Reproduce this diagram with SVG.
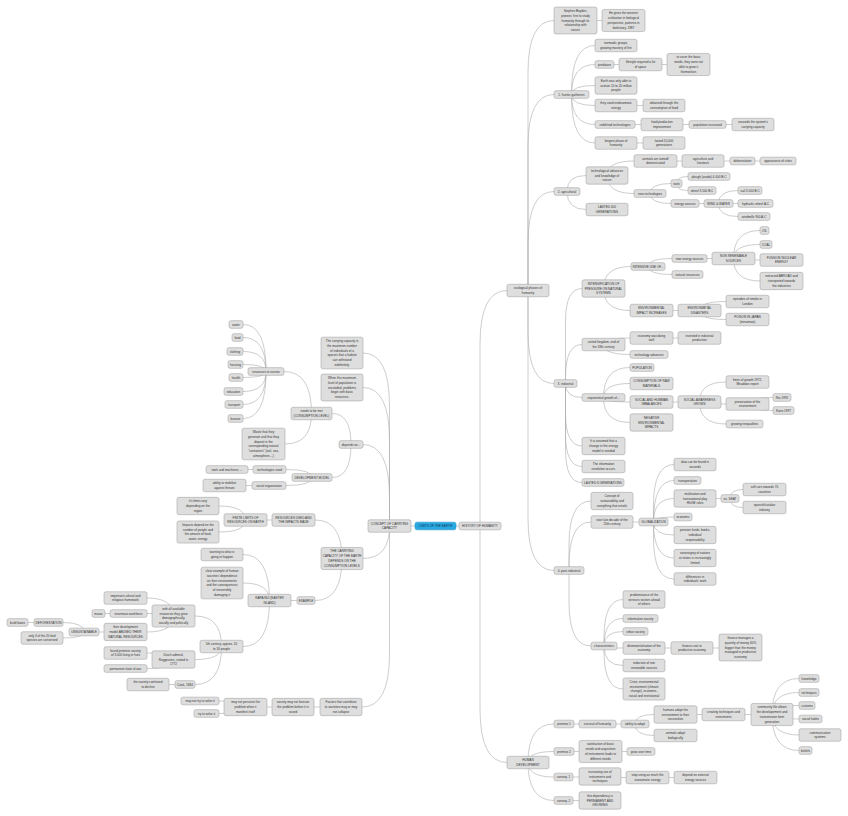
<svg xmlns="http://www.w3.org/2000/svg" width="848" height="816" viewBox="0 0 848 816">
<style>
.c path{fill:none;stroke:#ababab;stroke-width:.6}
.n rect{fill:#dedede;stroke:#999;stroke-width:.5;rx:2px}
.n text{font-family:"Liberation Sans",Arial,sans-serif;font-size:3.1px;fill:#333;text-anchor:middle;dominant-baseline:central}
#root rect{fill:#29a9e1;stroke:#1b8fc4}
#root text{fill:#123a5c}
</style>
<rect width="848" height="816" fill="#fff"/>
<g id="connectors" class="c">
<path d="M528 290.5V72.5Q528 20.5 554 20.5M528 290.5V146.5Q528 94.5 554 94.5M528 290.5V243.5Q528 191.5 554 191.5M528 290.5V331.5Q528 383.5 554 383.5M528 290.5V518.5Q528 570.5 554 570.5"/>
<path d="M480 526V344.5Q480 290.5 507 290.5M480 526V708.5Q480 762.5 507 762.5M456 526H459M415 526H411"/>
<path d="M597 20.5H602M571.5 94.5V92.5Q571.5 45.5 595 45.5M571.5 94.5Q571.5 64.5 595 64.5M571.5 94.5Q571.5 85.5 595 85.5M571.5 94.5Q571.5 105.5 595 105.5M571.5 94.5Q571.5 124.5 595 124.5M571.5 94.5V96Q571.5 143 595 143M614 64.5H619M662 64.5H667M637 105.5H643M635 124.5H641M683 124.5H689M726 124.5H732M637 143H643"/>
<path d="M567 191.5Q567 175.5 586 175.5M567 191.5Q567 209.5 586 209.5M607 175.5Q607 161 634 161M607 175.5Q607 193.5 634 193.5M677 161H682M724 161H730M755 161H760M650 193.5Q650 183.5 671 183.5M650 193.5Q650 203.5 671 203.5M676.5 183.5Q676.5 176.5 688 176.5M676.5 183.5Q676.5 190.5 688 190.5M699 203.5H704M718.5 203.5Q718.5 190.5 738 190.5M733 203.5H738M718.5 203.5Q718.5 216.5 738 216.5"/>
<path d="M565.5 383.5V321.5Q565.5 288.5 582 288.5M565.5 383.5V377.5Q565.5 344.5 582 344.5M565.5 383.5Q565.5 397.5 582 397.5M565.5 383.5V413Q565.5 446 582 446M565.5 383.5V433.5Q565.5 466.5 582 466.5M565.5 383.5V449.5Q565.5 482.5 582 482.5"/>
<path d="M603.5 288.5Q603.5 266.5 631 266.5M603.5 288.5Q603.5 310.5 630 310.5M648 266.5Q648 258.5 672 258.5M648 266.5Q648 274.5 672 274.5M707 258.5H712M733.5 258.5Q733.5 230.5 760 230.5M733.5 258.5Q733.5 244.5 760 244.5M755 260H760M733.5 258.5Q733.5 281 760 281M673 310.5H678M699.5 310.5Q699.5 301.5 726 301.5M699.5 310.5Q699.5 319.5 726 319.5"/>
<path d="M603.5 344.5Q603.5 338 630 338M603.5 344.5Q603.5 354.5 630 354.5M673 338H678M603.5 397.5Q603.5 367.5 630 367.5M603.5 397.5Q603.5 383.5 630 383.5M603.5 397.5Q603.5 402 630 402M603.5 397.5Q603.5 422.5 630 422.5M673 402H678M699.5 402Q699.5 382 726 382M721 404H726M699.5 402Q699.5 424 726 424M747.5 404Q747.5 397.5 773 397.5M747.5 404Q747.5 410.5 773 410.5"/>
<path d="M569 570.5V545Q569 501 591 501M569 570.5V566Q569 522 591 522M569 570.5V602Q569 646 591 646M633 522H639M653.5 522V505.5Q653.5 464.5 674 464.5M653.5 522V521.5Q653.5 480.5 674 480.5M653.5 522Q653.5 498.5 674 498.5M653.5 522Q653.5 517 674 517M653.5 522Q653.5 535 674 535M653.5 522Q653.5 558 674 558M653.5 522V538Q653.5 579 674 579M716 498.5H721M730 498.5Q730 489.5 743 489.5M730 498.5Q730 507.5 743 507.5"/>
<path d="M604 646V637.5Q604 599.5 623 599.5M604 646Q604 618.5 623 618.5M604 646Q604 631.5 623 631.5M617 648H623M604 646Q604 665.5 623 665.5M604 646V651Q604 689 623 689M665 648H671M713 648H719"/>
<path d="M528 762.5Q528 724 554 724M528 762.5Q528 751.5 554 751.5M528 762.5Q528 777 554 777M528 762.5Q528 800.5 554 800.5M574 724H579M616 724H621M635 724Q635 714.5 654 714.5M635 724Q635 735.5 654 735.5M697 714.5H702M745 714.5H751M772 714.5Q772 678.5 799 678.5M772 714.5Q772 692.5 799 692.5M772 714.5Q772 705.5 799 705.5M772 714.5Q772 719 799 719M772 714.5Q772 735 799 735M772 714.5Q772 750.5 799 750.5M574 751.5H579M622 751.5H627M573 777H579M621 777.5H626M669 777.5H674M573 800.5H579"/>
<path d="M389.5 526V406Q389.5 353 363 353M389.5 526V440.5Q389.5 387.5 363 387.5M389.5 526V497.5Q389.5 444.5 363 444.5M389.5 526Q389.5 558.5 363 558.5M389.5 526V654Q389.5 707 362 707"/>
<path d="M351 444.5Q351 413.5 332 413.5M351 444.5Q351 477.5 332 477.5M311.5 413.5Q311.5 371.5 284 371.5M311.5 413.5Q311.5 444 285 444M266 371.5V370.5Q266 324.5 243 324.5M266 371.5Q266 337.5 243 337.5M266 371.5Q266 351.5 243 351.5M266 371.5Q266 364.5 243 364.5M266 371.5Q266 377.5 243 377.5M266 371.5Q266 391.5 243 391.5M266 371.5Q266 404.5 243 404.5M266 371.5V372.5Q266 418.5 243 418.5M312 477.5Q312 469.5 286 469.5M312 477.5Q312 485.5 286 485.5M253 469.5H248M252 485.5H246"/>
<path d="M342 558.5Q342 520 315 520M342 558.5Q342 600.5 315 600.5M272 520H267M245.5 520Q245.5 506 219 506M245.5 520Q245.5 532 219 532M297 600.5H291M269.5 600.5Q269.5 554.5 243 554.5M269.5 600.5Q269.5 583 243 583M269.5 600.5Q269.5 646.5 243 646.5"/>
<path d="M221.5 646.5Q221.5 616 195 616M221.5 646.5Q221.5 659.5 195 659.5M221.5 646.5Q221.5 684.5 195 684.5M173.5 616Q173.5 598 147 598M152 613.5H147M173.5 616Q173.5 632 147 632M110 613.5H105M104 632H99M84 632Q84 622.5 63 622.5M84 632Q84 638 63 638M34 622.5H28M173.5 659.5Q173.5 653 147 653M173.5 659.5Q173.5 668.5 147 668.5M175 684.5H169"/>
<path d="M320 707H314M272 707H267M245.5 707Q245.5 701 219 701M245.5 707Q245.5 713.5 219 713.5"/>
</g>

<g id="root" class="n"><rect x="415" y="522.15" width="41" height="7.7"/><text x="435.5" y="526">LIMITS OF THE EARTH</text></g>
<g id="hist" class="n"><rect x="459" y="522.15" width="42" height="7.7"/><text x="480" y="526">HISTORY OF HUMANITY</text></g>
<g id="concept" class="n"><rect x="368" y="519.75" width="43" height="12.5"/><text x="389.5" y="523.6"><tspan x="389.5">CONCEPT OF CARRYING</tspan><tspan x="389.5" dy="4.8">CAPACITY</tspan></text></g>
<g id="ecol" class="n"><rect x="507" y="284.25" width="42" height="12.5"/><text x="528" y="288.1"><tspan x="528">ecological phases of</tspan><tspan x="528" dy="4.8">humanity</tspan></text></g>
<g id="hd" class="n"><rect x="507" y="756.25" width="42" height="12.5"/><text x="528" y="760.1"><tspan x="528">HUMAN</tspan><tspan x="528" dy="4.8">DEVELOPMENT</tspan></text></g>

<g id="boyden" class="n"><rect x="554" y="7.05" width="43" height="26.9"/><text x="575.5" y="10.9"><tspan x="575.5">Stephen Boyden,</tspan><tspan x="575.5" dy="4.8">pioneer, first to study</tspan><tspan x="575.5" dy="4.8">humanity through its</tspan><tspan x="575.5" dy="4.8">relationship with</tspan><tspan x="575.5" dy="4.8">nature</tspan></text></g>
<g id="gives" class="n"><rect x="602" y="9.45" width="43" height="22.1"/><text x="623.5" y="13.3"><tspan x="623.5">He gives the western</tspan><tspan x="623.5" dy="4.8">civilization in biological</tspan><tspan x="623.5" dy="4.8">perspective, patterns in</tspan><tspan x="623.5" dy="4.8">biohistory. 1987</tspan></text></g>
<g id="hunter" class="n"><rect x="554" y="90.65" width="35" height="7.7"/><text x="571.5" y="94.5">1. hunter-gatherers</text></g>
<g id="nomadic" class="n"><rect x="595" y="39.25" width="42" height="12.5"/><text x="616" y="43.1"><tspan x="616">normadic groups,</tspan><tspan x="616" dy="4.8">growing mastery of fire</tspan></text></g>
<g id="predators" class="n"><rect x="595" y="60.65" width="19" height="7.7"/><text x="604.5" y="64.5">predators</text></g>
<g id="lifestyle" class="n"><rect x="619" y="58.25" width="43" height="12.5"/><text x="640.5" y="62.1"><tspan x="640.5">lifestyle required a lot</tspan><tspan x="640.5" dy="4.8">of space</tspan></text></g>
<g id="tocover" class="n"><rect x="667" y="53.45" width="43" height="22.1"/><text x="688.5" y="57.3"><tspan x="688.5">to cover the basic</tspan><tspan x="688.5" dy="4.8">needs, they were not</tspan><tspan x="688.5" dy="4.8">able to grow it</tspan><tspan x="688.5" dy="4.8">themselves</tspan></text></g>
<g id="earth" class="n"><rect x="595" y="76.85" width="42" height="17.3"/><text x="616" y="80.7"><tspan x="616">Earth was only able to</tspan><tspan x="616" dy="4.8">sustain 10 to 20 million</tspan><tspan x="616" dy="4.8">people</tspan></text></g>
<g id="used" class="n"><rect x="595" y="99.25" width="42" height="12.5"/><text x="616" y="103.1"><tspan x="616">they used endosomatic</tspan><tspan x="616" dy="4.8">energy</tspan></text></g>
<g id="obtained" class="n"><rect x="643" y="99.25" width="42" height="12.5"/><text x="664" y="103.1"><tspan x="664">obtained through the</tspan><tspan x="664" dy="4.8">consumption of food</tspan></text></g>
<g id="redefined" class="n"><rect x="595" y="120.65" width="40" height="7.7"/><text x="615" y="124.5">redefined technologies</text></g>
<g id="foodprod" class="n"><rect x="641" y="118.25" width="42" height="12.5"/><text x="662" y="122.1"><tspan x="662">food production</tspan><tspan x="662" dy="4.8">improvement</tspan></text></g>
<g id="popinc" class="n"><rect x="689" y="120.65" width="37" height="7.7"/><text x="707.5" y="124.5">population increased</text></g>
<g id="exceeds" class="n"><rect x="732" y="118.25" width="42" height="12.5"/><text x="753" y="122.1"><tspan x="753">exceeds the system's</tspan><tspan x="753" dy="4.8">carrying capacity</tspan></text></g>
<g id="longest" class="n"><rect x="595" y="136.75" width="42" height="12.5"/><text x="616" y="140.6"><tspan x="616">longest phase of</tspan><tspan x="616" dy="4.8">humanity</tspan></text></g>
<g id="lasted" class="n"><rect x="643" y="136.75" width="42" height="12.5"/><text x="664" y="140.6"><tspan x="664">lasted 10,000</tspan><tspan x="664" dy="4.8">generations</tspan></text></g>

<g id="agri" class="n"><rect x="554" y="187.65" width="26" height="7.7"/><text x="567" y="191.5">2. agricultural</text></g>
<g id="techadv" class="n"><rect x="586" y="166.85" width="42" height="17.3"/><text x="607" y="170.7"><tspan x="607">technological advances</tspan><tspan x="607" dy="4.8">and knowledge of</tspan><tspan x="607" dy="4.8">nature</tspan></text></g>
<g id="animals" class="n"><rect x="634" y="154.75" width="43" height="12.5"/><text x="655.5" y="158.6"><tspan x="655.5">animals are tamed/</tspan><tspan x="655.5" dy="4.8">domesticated</tspan></text></g>
<g id="agriliv" class="n"><rect x="682" y="154.75" width="42" height="12.5"/><text x="703" y="158.6"><tspan x="703">agriculture and</tspan><tspan x="703" dy="4.8">livestock</tspan></text></g>
<g id="defor" class="n"><rect x="730" y="157.15" width="25" height="7.7"/><text x="742.5" y="161">deforestation</text></g>
<g id="cities" class="n"><rect x="760" y="157.15" width="36" height="7.7"/><text x="778" y="161">appearance of cities</text></g>
<g id="newtech" class="n"><rect x="634" y="189.65" width="32" height="7.7"/><text x="650" y="193.5">new technologies</text></g>
<g id="tools" class="n"><rect x="671" y="179.65" width="11" height="7.7"/><text x="676.5" y="183.5">tools</text></g>
<g id="plough" class="n"><rect x="688" y="172.65" width="42" height="7.7"/><text x="709" y="176.5">plough (arado) 4.000 B.C</text></g>
<g id="wheel" class="n"><rect x="688" y="186.65" width="28" height="7.7"/><text x="702" y="190.5">wheel 3.500 B.C</text></g>
<g id="energy" class="n"><rect x="671" y="199.65" width="28" height="7.7"/><text x="685" y="203.5">energy sources</text></g>
<g id="wind" class="n"><rect x="704" y="199.65" width="29" height="7.7"/><text x="718.5" y="203.5">WIND &amp; WATER</text></g>
<g id="sail" class="n"><rect x="738" y="186.65" width="24" height="7.7"/><text x="750" y="190.5">sail 3.000 B.C</text></g>
<g id="hydraulic" class="n"><rect x="738" y="199.65" width="35" height="7.7"/><text x="755.5" y="203.5">hydraulic wheel A.C</text></g>
<g id="windmills" class="n"><rect x="738" y="212.65" width="32" height="7.7"/><text x="754" y="216.5">windmills 900 A.C</text></g>
<g id="lasted400" class="n"><rect x="586" y="203.25" width="42" height="12.5"/><text x="607" y="207.1"><tspan x="607">LASTED 400</tspan><tspan x="607" dy="4.8">GENERATIONS</tspan></text></g>

<g id="industrial" class="n"><rect x="554" y="379.65" width="23" height="7.7"/><text x="565.5" y="383.5">3. industrial</text></g>
<g id="intens" class="n"><rect x="582" y="279.85" width="43" height="17.3"/><text x="603.5" y="283.7"><tspan x="603.5">INTENSIFICATION OF</tspan><tspan x="603.5" dy="4.8">PRESSURE ON NATURAL</tspan><tspan x="603.5" dy="4.8">SYSTEMS</tspan></text></g>
<g id="intensive" class="n"><rect x="631" y="262.65" width="34" height="7.7"/><text x="648" y="266.5">INTENSIVE USE OF...</text></g>
<g id="newenergy" class="n"><rect x="672" y="254.65" width="35" height="7.7"/><text x="689.5" y="258.5">new energy sources</text></g>
<g id="nonrenew" class="n"><rect x="712" y="252.25" width="43" height="12.5"/><text x="733.5" y="256.1"><tspan x="733.5">NON RENEWABLE</tspan><tspan x="733.5" dy="4.8">SOURCES</tspan></text></g>
<g id="oil" class="n"><rect x="760" y="226.65" width="9" height="7.7"/><text x="764.5" y="230.5">OIL</text></g>
<g id="coal" class="n"><rect x="760" y="240.65" width="12" height="7.7"/><text x="766" y="244.5">COAL</text></g>
<g id="fussion" class="n"><rect x="760" y="253.75" width="43" height="12.5"/><text x="781.5" y="257.6"><tspan x="781.5">FUSSION NUCLEAR</tspan><tspan x="781.5" dy="4.8">ENERGY</tspan></text></g>
<g id="extracted" class="n"><rect x="760" y="272.35" width="43" height="17.3"/><text x="781.5" y="276.2"><tspan x="781.5">extracted ABROAD and</tspan><tspan x="781.5" dy="4.8">transported towards</tspan><tspan x="781.5" dy="4.8">the industries</tspan></text></g>
<g id="natres" class="n"><rect x="672" y="270.65" width="31" height="7.7"/><text x="687.5" y="274.5">natural resources</text></g>
<g id="envimpact" class="n"><rect x="630" y="304.25" width="43" height="12.5"/><text x="651.5" y="308.1"><tspan x="651.5">ENVIRONMENTAL</tspan><tspan x="651.5" dy="4.8">IMPACT INCREASES</tspan></text></g>
<g id="disasters" class="n"><rect x="678" y="304.25" width="43" height="12.5"/><text x="699.5" y="308.1"><tspan x="699.5">ENVIRONMETAL</tspan><tspan x="699.5" dy="4.8">DISASTERS</tspan></text></g>
<g id="smoke" class="n"><rect x="726" y="295.25" width="43" height="12.5"/><text x="747.5" y="299.1"><tspan x="747.5">episodes of smoke in</tspan><tspan x="747.5" dy="4.8">London</tspan></text></g>
<g id="poison" class="n"><rect x="726" y="313.25" width="43" height="12.5"/><text x="747.5" y="317.1"><tspan x="747.5">POISON IN JAPAN</tspan><tspan x="747.5" dy="4.8">(minamata)</tspan></text></g>
<g id="uk" class="n"><rect x="582" y="338.25" width="43" height="12.5"/><text x="603.5" y="342.1"><tspan x="603.5">united kingdom, end of</tspan><tspan x="603.5" dy="4.8">the 18th century</tspan></text></g>
<g id="economy" class="n"><rect x="630" y="331.75" width="43" height="12.5"/><text x="651.5" y="335.6"><tspan x="651.5">economy was doing</tspan><tspan x="651.5" dy="4.8">well</tspan></text></g>
<g id="invested" class="n"><rect x="678" y="331.75" width="43" height="12.5"/><text x="699.5" y="335.6"><tspan x="699.5">invested in industrial</tspan><tspan x="699.5" dy="4.8">production</tspan></text></g>
<g id="techadv2" class="n"><rect x="630" y="350.65" width="38" height="7.7"/><text x="649" y="354.5">technology advances</text></g>
<g id="expo" class="n"><rect x="582" y="393.65" width="43" height="7.7"/><text x="603.5" y="397.5">exponential growth of...</text></g>
<g id="population" class="n"><rect x="630" y="363.65" width="24" height="7.7"/><text x="642" y="367.5">POPULATION</text></g>
<g id="consumption" class="n"><rect x="630" y="377.25" width="43" height="12.5"/><text x="651.5" y="381.1"><tspan x="651.5">CONSUMPTION OF RAW</tspan><tspan x="651.5" dy="4.8">MATERIALS</tspan></text></g>
<g id="imbalances" class="n"><rect x="630" y="395.75" width="43" height="12.5"/><text x="651.5" y="399.6"><tspan x="651.5">SOCIAL AND HUMMAN</tspan><tspan x="651.5" dy="4.8">IMBALANCES</tspan></text></g>
<g id="awareness" class="n"><rect x="678" y="395.75" width="43" height="12.5"/><text x="699.5" y="399.6"><tspan x="699.5">SOCIAL AWARENESS</tspan><tspan x="699.5" dy="4.8">GROWS</tspan></text></g>
<g id="limits" class="n"><rect x="726" y="375.75" width="43" height="12.5"/><text x="747.5" y="379.6"><tspan x="747.5">limits of growth 1972,</tspan><tspan x="747.5" dy="4.8">Meadows report</tspan></text></g>
<g id="preservation" class="n"><rect x="726" y="397.75" width="43" height="12.5"/><text x="747.5" y="401.6"><tspan x="747.5">preservation of the</tspan><tspan x="747.5" dy="4.8">environment</tspan></text></g>
<g id="rio" class="n"><rect x="773" y="393.65" width="18" height="7.7"/><text x="782" y="397.5">Rio 1992</text></g>
<g id="kioto" class="n"><rect x="773" y="406.65" width="21" height="7.7"/><text x="783.5" y="410.5">Kioto 1997</text></g>
<g id="inequal" class="n"><rect x="726" y="420.15" width="37" height="7.7"/><text x="744.5" y="424">growing inequalities</text></g>
<g id="negative" class="n"><rect x="630" y="413.85" width="43" height="17.3"/><text x="651.5" y="417.7"><tspan x="651.5">NEGATIVE</tspan><tspan x="651.5" dy="4.8">ENVIRONMENTAL</tspan><tspan x="651.5" dy="4.8">IMPACTS</tspan></text></g>
<g id="assumed" class="n"><rect x="582" y="437.35" width="43" height="17.3"/><text x="603.5" y="441.2"><tspan x="603.5">It is assumed that a</tspan><tspan x="603.5" dy="4.8">change in the energy</tspan><tspan x="603.5" dy="4.8">model is needed</tspan></text></g>
<g id="inforev" class="n"><rect x="582" y="460.25" width="43" height="12.5"/><text x="603.5" y="464.1"><tspan x="603.5">The information</tspan><tspan x="603.5" dy="4.8">revolution occurs.</tspan></text></g>
<g id="lasted6" class="n"><rect x="582" y="478.65" width="42" height="7.7"/><text x="603" y="482.5">LASTED 6 GENERATIONS</text></g>

<g id="post" class="n"><rect x="554" y="566.65" width="30" height="7.7"/><text x="569" y="570.5">4. post-industrial</text></g>
<g id="sustain" class="n"><rect x="591" y="492.35" width="42" height="17.3"/><text x="612" y="496.2"><tspan x="612">Concept of</tspan><tspan x="612" dy="4.8">sustainability and</tspan><tspan x="612" dy="4.8">everything that entails</tspan></text></g>
<g id="startdec" class="n"><rect x="591" y="515.75" width="42" height="12.5"/><text x="612" y="519.6"><tspan x="612">start last decade of the</tspan><tspan x="612" dy="4.8">20th century</tspan></text></g>
<g id="global" class="n"><rect x="639" y="518.15" width="29" height="7.7"/><text x="653.5" y="522">GLOBALIZATION</text></g>
<g id="data" class="n"><rect x="674" y="458.25" width="42" height="12.5"/><text x="695" y="462.1"><tspan x="695">data can be found in</tspan><tspan x="695" dy="4.8">seconds</tspan></text></g>
<g id="transport2" class="n"><rect x="674" y="476.65" width="27" height="7.7"/><text x="687.5" y="480.5">transportation</text></g>
<g id="multi" class="n"><rect x="674" y="489.85" width="42" height="17.3"/><text x="695" y="493.7"><tspan x="695">multination and</tspan><tspan x="695" dy="4.8">transnational play</tspan><tspan x="695" dy="4.8">HUGE roles</tspan></text></g>
<g id="seat" class="n"><rect x="721" y="494.65" width="18" height="7.7"/><text x="730" y="498.5">ex. SEAT</text></g>
<g id="sellcars" class="n"><rect x="743" y="483.25" width="43" height="12.5"/><text x="764.5" y="487.1"><tspan x="764.5">sell cars towards 70</tspan><tspan x="764.5" dy="4.8">countries</tspan></text></g>
<g id="spanish" class="n"><rect x="743" y="501.25" width="43" height="12.5"/><text x="764.5" y="505.1"><tspan x="764.5">spanish/catalan</tspan><tspan x="764.5" dy="4.8">industry</tspan></text></g>
<g id="economic" class="n"><rect x="674" y="513.15" width="18" height="7.7"/><text x="683" y="517">economic</text></g>
<g id="pension" class="n"><rect x="674" y="526.35" width="42" height="17.3"/><text x="695" y="530.2"><tspan x="695">pension funds, banks,</tspan><tspan x="695" dy="4.8">individual</tspan><tspan x="695" dy="4.8">responsability</tspan></text></g>
<g id="sovereignty" class="n"><rect x="674" y="549.35" width="42" height="17.3"/><text x="695" y="553.2"><tspan x="695">sovereignty of nations</tspan><tspan x="695" dy="4.8">or states is increasingly</tspan><tspan x="695" dy="4.8">limited</tspan></text></g>
<g id="differences" class="n"><rect x="674" y="572.75" width="42" height="12.5"/><text x="695" y="576.6"><tspan x="695">differences in</tspan><tspan x="695" dy="4.8">individuals' work</tspan></text></g>
<g id="charac" class="n"><rect x="591" y="642.15" width="26" height="7.7"/><text x="604" y="646">characteristics</text></g>
<g id="predom" class="n"><rect x="623" y="590.85" width="42" height="17.3"/><text x="644" y="594.7"><tspan x="644">predominance of the</tspan><tspan x="644" dy="4.8">services sectors ahead</tspan><tspan x="644" dy="4.8">of others</tspan></text></g>
<g id="infosoc" class="n"><rect x="623" y="614.65" width="35" height="7.7"/><text x="640.5" y="618.5">information society</text></g>
<g id="urban" class="n"><rect x="623" y="627.65" width="25" height="7.7"/><text x="635.5" y="631.5">urban society</text></g>
<g id="desmat" class="n"><rect x="623" y="641.75" width="42" height="12.5"/><text x="644" y="645.6"><tspan x="644">desmaterialisation of the</tspan><tspan x="644" dy="4.8">economy</tspan></text></g>
<g id="finreal" class="n"><rect x="671" y="641.75" width="42" height="12.5"/><text x="692" y="645.6"><tspan x="692">finance-real or</tspan><tspan x="692" dy="4.8">productive economy</tspan></text></g>
<g id="finman" class="n"><rect x="719" y="634.05" width="43" height="26.9"/><text x="740.5" y="637.9"><tspan x="740.5">finance manages a</tspan><tspan x="740.5" dy="4.8">quantity of money 60%</tspan><tspan x="740.5" dy="4.8">bigger than the money</tspan><tspan x="740.5" dy="4.8">managed in productive</tspan><tspan x="740.5" dy="4.8">economy</tspan></text></g>
<g id="reduction" class="n"><rect x="623" y="659.25" width="42" height="12.5"/><text x="644" y="663.1"><tspan x="644">reduction of non</tspan><tspan x="644" dy="4.8">renewable sources</tspan></text></g>
<g id="crisis" class="n"><rect x="623" y="677.95" width="42" height="22.1"/><text x="644" y="681.8"><tspan x="644">Crisis: environmental</tspan><tspan x="644" dy="4.8">environment (climate</tspan><tspan x="644" dy="4.8">change), economic,</tspan><tspan x="644" dy="4.8">social and institutional</tspan></text></g>

<g id="p1" class="n"><rect x="554" y="720.15" width="20" height="7.7"/><text x="564" y="724">premise 1</text></g>
<g id="survival" class="n"><rect x="579" y="720.15" width="37" height="7.7"/><text x="597.5" y="724">survival of humanity</text></g>
<g id="ability" class="n"><rect x="621" y="720.15" width="28" height="7.7"/><text x="635" y="724">ability to adapt</text></g>
<g id="humans" class="n"><rect x="654" y="705.85" width="43" height="17.3"/><text x="675.5" y="709.7"><tspan x="675.5">humans adapt the</tspan><tspan x="675.5" dy="4.8">environment to their</tspan><tspan x="675.5" dy="4.8">necessities</tspan></text></g>
<g id="creating" class="n"><rect x="702" y="708.25" width="43" height="12.5"/><text x="723.5" y="712.1"><tspan x="723.5">creating techniques and</tspan><tspan x="723.5" dy="4.8">instruments</tspan></text></g>
<g id="community" class="n"><rect x="751" y="703.45" width="42" height="22.1"/><text x="772" y="707.3"><tspan x="772">community life allows</tspan><tspan x="772" dy="4.8">the developement and</tspan><tspan x="772" dy="4.8">transmission form</tspan><tspan x="772" dy="4.8">generation</tspan></text></g>
<g id="knowledge" class="n"><rect x="799" y="674.65" width="20" height="7.7"/><text x="809" y="678.5">knowledge</text></g>
<g id="techniques" class="n"><rect x="799" y="688.65" width="20" height="7.7"/><text x="809" y="692.5">techniques</text></g>
<g id="customs" class="n"><rect x="799" y="701.65" width="16" height="7.7"/><text x="807" y="705.5">customs</text></g>
<g id="habits" class="n"><rect x="799" y="715.15" width="23" height="7.7"/><text x="810.5" y="719">social habits</text></g>
<g id="commsys" class="n"><rect x="799" y="728.75" width="42" height="12.5"/><text x="820" y="732.6"><tspan x="820">communication</tspan><tspan x="820" dy="4.8">systems</tspan></text></g>
<g id="beliefs" class="n"><rect x="799" y="746.65" width="13" height="7.7"/><text x="805.5" y="750.5">beliefs</text></g>
<g id="animalsadapt" class="n"><rect x="654" y="729.25" width="43" height="12.5"/><text x="675.5" y="733.1"><tspan x="675.5">animals adapt</tspan><tspan x="675.5" dy="4.8">biologically</tspan></text></g>
<g id="p2" class="n"><rect x="554" y="747.65" width="20" height="7.7"/><text x="564" y="751.5">premise 2</text></g>
<g id="satisf" class="n"><rect x="579" y="740.45" width="43" height="22.1"/><text x="600.5" y="744.3"><tspan x="600.5">satisfaction of basic</tspan><tspan x="600.5" dy="4.8">needs and acquisition</tspan><tspan x="600.5" dy="4.8">of instruments leads to</tspan><tspan x="600.5" dy="4.8">different needs</tspan></text></g>
<g id="grow" class="n"><rect x="627" y="747.65" width="28" height="7.7"/><text x="641" y="751.5">grow over time</text></g>
<g id="c1" class="n"><rect x="554" y="773.15" width="19" height="7.7"/><text x="563.5" y="777">conseq. 1</text></g>
<g id="increasing" class="n"><rect x="579" y="767.85" width="42" height="17.3"/><text x="600" y="771.7"><tspan x="600">increasing use of</tspan><tspan x="600" dy="4.8">instruments and</tspan><tspan x="600" dy="4.8">techniques</tspan></text></g>
<g id="stop" class="n"><rect x="626" y="771.25" width="43" height="12.5"/><text x="647.5" y="775.1"><tspan x="647.5">stop using as much the</tspan><tspan x="647.5" dy="4.8">exosomatic energy</tspan></text></g>
<g id="depend" class="n"><rect x="674" y="771.25" width="43" height="12.5"/><text x="695.5" y="775.1"><tspan x="695.5">depend on external</tspan><tspan x="695.5" dy="4.8">energy sources</tspan></text></g>
<g id="c2" class="n"><rect x="554" y="796.65" width="19" height="7.7"/><text x="563.5" y="800.5">conseq. 2</text></g>
<g id="dependency" class="n"><rect x="579" y="791.85" width="42" height="17.3"/><text x="600" y="795.7"><tspan x="600">this dependency is</tspan><tspan x="600" dy="4.8">PERMANENT AND</tspan><tspan x="600" dy="4.8">GROWING</tspan></text></g>

<g id="cc" class="n"><rect x="321" y="337.15" width="42" height="31.7"/><text x="342" y="341"><tspan x="342">The carrying capacity is</tspan><tspan x="342" dy="4.8">the maximum number</tspan><tspan x="342" dy="4.8">of individuals of a</tspan><tspan x="342" dy="4.8">species that a habitat</tspan><tspan x="342" dy="4.8">can withstand</tspan><tspan x="342" dy="4.8">indefinitely.</tspan></text></g>
<g id="when" class="n"><rect x="321" y="374.05" width="42" height="26.9"/><text x="342" y="377.9"><tspan x="342">When this maximum</tspan><tspan x="342" dy="4.8">level of population is</tspan><tspan x="342" dy="4.8">exceeded, problems</tspan><tspan x="342" dy="4.8">begin with basic</tspan><tspan x="342" dy="4.8">resources.</tspan></text></g>
<g id="depends" class="n"><rect x="339" y="440.65" width="24" height="7.7"/><text x="351" y="444.5">depends on...</text></g>
<g id="needs" class="n"><rect x="291" y="407.25" width="41" height="12.5"/><text x="311.5" y="411.1"><tspan x="311.5">needs to be met</tspan><tspan x="311.5" dy="4.8">(CONSUMPTION LEVEL)</tspan></text></g>
<g id="resources" class="n"><rect x="248" y="367.65" width="36" height="7.7"/><text x="266" y="371.5">resources to survive</text></g>
<g id="water" class="n"><rect x="229" y="320.65" width="14" height="7.7"/><text x="236" y="324.5">water</text></g>
<g id="food" class="n"><rect x="232" y="333.65" width="11" height="7.7"/><text x="237.5" y="337.5">food</text></g>
<g id="clothing" class="n"><rect x="227" y="347.65" width="16" height="7.7"/><text x="235" y="351.5">clothing</text></g>
<g id="housing" class="n"><rect x="228" y="360.65" width="15" height="7.7"/><text x="235.5" y="364.5">housing</text></g>
<g id="health" class="n"><rect x="229" y="373.65" width="14" height="7.7"/><text x="236" y="377.5">health</text></g>
<g id="education" class="n"><rect x="224" y="387.65" width="19" height="7.7"/><text x="233.5" y="391.5">education</text></g>
<g id="transport" class="n"><rect x="225" y="400.65" width="18" height="7.7"/><text x="234" y="404.5">transport</text></g>
<g id="leasure" class="n"><rect x="228" y="414.65" width="15" height="7.7"/><text x="235.5" y="418.5">leasure</text></g>
<g id="waste" class="n"><rect x="242" y="428.15" width="43" height="31.7"/><text x="263.5" y="432"><tspan x="263.5">Waste that they</tspan><tspan x="263.5" dy="4.8">generate and that they</tspan><tspan x="263.5" dy="4.8">deposit in the</tspan><tspan x="263.5" dy="4.8">corresponding natural</tspan><tspan x="263.5" dy="4.8">"containers" (soil, sea,</tspan><tspan x="263.5" dy="4.8">atmosphere,...)</tspan></text></g>
<g id="devmodel" class="n"><rect x="292" y="473.65" width="40" height="7.7"/><text x="312" y="477.5">DEVELOPMENT MODEL</text></g>
<g id="techused" class="n"><rect x="253" y="465.65" width="33" height="7.7"/><text x="269.5" y="469.5">technologies used</text></g>
<g id="toolsmach" class="n"><rect x="206" y="465.65" width="42" height="7.7"/><text x="227" y="469.5">tools and machines, ...</text></g>
<g id="socorg" class="n"><rect x="252" y="481.65" width="34" height="7.7"/><text x="269" y="485.5">social organization</text></g>
<g id="mobilize" class="n"><rect x="203" y="479.25" width="43" height="12.5"/><text x="224.5" y="483.1"><tspan x="224.5">ability to mobilize</tspan><tspan x="224.5" dy="4.8">against threats</tspan></text></g>

<g id="carrying" class="n"><rect x="321" y="547.45" width="42" height="22.1"/><text x="342" y="551.3"><tspan x="342">THE CARRYING</tspan><tspan x="342" dy="4.8">CAPACITY OF THE EARTH</tspan><tspan x="342" dy="4.8">DEPENDS ON THE</tspan><tspan x="342" dy="4.8">CONSUMPTION LEVELS</tspan></text></g>
<g id="resused" class="n"><rect x="272" y="513.75" width="43" height="12.5"/><text x="293.5" y="517.6"><tspan x="293.5">RESOURCES USED AND</tspan><tspan x="293.5" dy="4.8">THE IMPACTS MADE</tspan></text></g>
<g id="finite" class="n"><rect x="224" y="513.75" width="43" height="12.5"/><text x="245.5" y="517.6"><tspan x="245.5">FINITE LIMITS OF</tspan><tspan x="245.5" dy="4.8">RESOURCES ON EARTH</tspan></text></g>
<g id="vary" class="n"><rect x="177" y="497.35" width="42" height="17.3"/><text x="198" y="501.2"><tspan x="198">it's limits vary</tspan><tspan x="198" dy="4.8">depending on the</tspan><tspan x="198" dy="4.8">region</tspan></text></g>
<g id="impacts" class="n"><rect x="177" y="520.95" width="42" height="22.1"/><text x="198" y="524.8"><tspan x="198">Impacts depend on the</tspan><tspan x="198" dy="4.8">number of people and</tspan><tspan x="198" dy="4.8">the amount of food,</tspan><tspan x="198" dy="4.8">water, energy</tspan></text></g>
<g id="example" class="n"><rect x="297" y="596.65" width="18" height="7.7"/><text x="306" y="600.5">EXAMPLE</text></g>
<g id="rapanui" class="n"><rect x="248" y="594.25" width="43" height="12.5"/><text x="269.5" y="598.1"><tspan x="269.5">RAPA NUI (EASTER</tspan><tspan x="269.5" dy="4.8">ISLAND)</tspan></text></g>
<g id="warning" class="n"><rect x="201" y="548.25" width="42" height="12.5"/><text x="222" y="552.1"><tspan x="222">warning to what is</tspan><tspan x="222" dy="4.8">going to happen</tspan></text></g>
<g id="clearex" class="n"><rect x="201" y="567.15" width="42" height="31.7"/><text x="222" y="571"><tspan x="222">clear example of human</tspan><tspan x="222" dy="4.8">societies' dependence</tspan><tspan x="222" dy="4.8">on their environments</tspan><tspan x="222" dy="4.8">and the consequences</tspan><tspan x="222" dy="4.8">of irreversibly</tspan><tspan x="222" dy="4.8">damaging it</tspan></text></g>
<g id="fifth" class="n"><rect x="200" y="640.25" width="43" height="12.5"/><text x="221.5" y="644.1"><tspan x="221.5">5th century, approx. 20</tspan><tspan x="221.5" dy="4.8">to 30 people</tspan></text></g>
<g id="withall" class="n"><rect x="152" y="604.95" width="43" height="22.1"/><text x="173.5" y="608.8"><tspan x="173.5">with all available</tspan><tspan x="173.5" dy="4.8">resources they grew</tspan><tspan x="173.5" dy="4.8">demographically,</tspan><tspan x="173.5" dy="4.8">socially and politically</tspan></text></g>
<g id="cultural" class="n"><rect x="104" y="591.75" width="43" height="12.5"/><text x="125.5" y="595.6"><tspan x="125.5">important cultural and</tspan><tspan x="125.5" dy="4.8">religious framework</tspan></text></g>
<g id="workforce" class="n"><rect x="110" y="609.65" width="37" height="7.7"/><text x="128.5" y="613.5">enormous workforce</text></g>
<g id="moais" class="n"><rect x="92" y="609.65" width="13" height="7.7"/><text x="98.5" y="613.5">moais</text></g>
<g id="devmodel2" class="n"><rect x="104" y="623.35" width="43" height="17.3"/><text x="125.5" y="627.2"><tspan x="125.5">their development</tspan><tspan x="125.5" dy="4.8">model ABUSED THEIR</tspan><tspan x="125.5" dy="4.8">NATURAL RESOURCES</tspan></text></g>
<g id="unsust" class="n"><rect x="69" y="628.15" width="30" height="7.7"/><text x="84" y="632">UNSUSTAINABLE</text></g>
<g id="defor2" class="n"><rect x="34" y="618.65" width="29" height="7.7"/><text x="48.5" y="622.5">DEFORESTATION</text></g>
<g id="boats" class="n"><rect x="7" y="618.65" width="21" height="7.7"/><text x="17.5" y="622.5">build boats</text></g>
<g id="only3" class="n"><rect x="21" y="631.75" width="42" height="12.5"/><text x="42" y="635.6"><tspan x="42">only 3 of the 20 bird</tspan><tspan x="42" dy="4.8">species are conserved</tspan></text></g>
<g id="dutch" class="n"><rect x="152" y="650.85" width="43" height="17.3"/><text x="173.5" y="654.7"><tspan x="173.5">Dutch admiral,</tspan><tspan x="173.5" dy="4.8">Roggeveen, visited in</tspan><tspan x="173.5" dy="4.8">1772</tspan></text></g>
<g id="found" class="n"><rect x="104" y="646.75" width="43" height="12.5"/><text x="125.5" y="650.6"><tspan x="125.5">found primitive society</tspan><tspan x="125.5" dy="4.8">of 3,000 living in huts</tspan></text></g>
<g id="war" class="n"><rect x="104" y="664.65" width="43" height="7.7"/><text x="125.5" y="668.5">permanent state of war</text></g>
<g id="cook" class="n"><rect x="175" y="680.65" width="20" height="7.7"/><text x="185" y="684.5">Cook, 1884</text></g>
<g id="society" class="n"><rect x="127" y="678.25" width="42" height="12.5"/><text x="148" y="682.1"><tspan x="148">the society continued</tspan><tspan x="148" dy="4.8">to decline</tspan></text></g>
<g id="factors" class="n"><rect x="320" y="698.35" width="42" height="17.3"/><text x="341" y="702.2"><tspan x="341">Factors that contribute</tspan><tspan x="341" dy="4.8">to societies may or may</tspan><tspan x="341" dy="4.8">not collapse</tspan></text></g>
<g id="foresee" class="n"><rect x="272" y="698.35" width="42" height="17.3"/><text x="293" y="702.2"><tspan x="293">society may not foresee</tspan><tspan x="293" dy="4.8">the problem before it is</tspan><tspan x="293" dy="4.8">raised</tspan></text></g>
<g id="perceive" class="n"><rect x="224" y="698.35" width="43" height="17.3"/><text x="245.5" y="702.2"><tspan x="245.5">may not perceive the</tspan><tspan x="245.5" dy="4.8">problem when it</tspan><tspan x="245.5" dy="4.8">manifest itself</tspan></text></g>
<g id="maynot" class="n"><rect x="181" y="697.15" width="38" height="7.7"/><text x="200" y="701">may not try to solve it</text></g>
<g id="trysolve" class="n"><rect x="194" y="709.65" width="25" height="7.7"/><text x="206.5" y="713.5">try to solve it</text></g>
</svg>
